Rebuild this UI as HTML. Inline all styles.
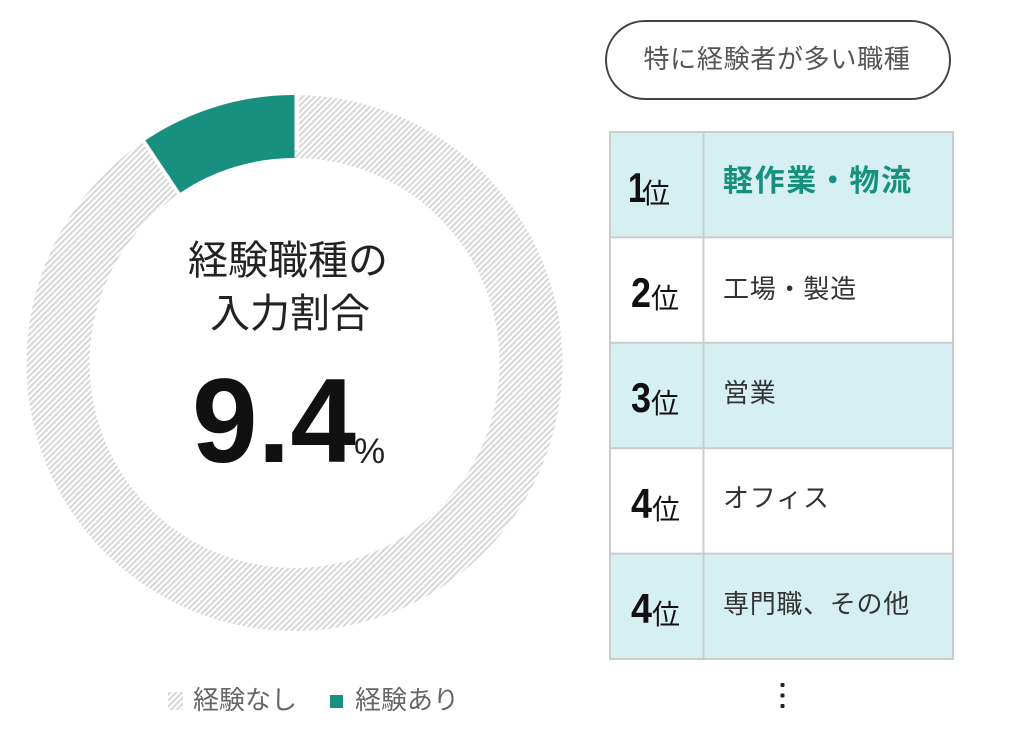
<!DOCTYPE html>
<html>
<head>
<meta charset="utf-8">
<style>
html,body{margin:0;padding:0;background:#fff;}
body{width:1024px;height:743px;overflow:hidden;}
svg{display:block;}
text{font-family:"Liberation Sans","Noto Sans CJK JP",sans-serif;}
</style>
</head>
<body>
<svg width="1024" height="743" viewBox="0 0 1024 743" xmlns="http://www.w3.org/2000/svg">
  <defs>
    <pattern id="hatch" patternUnits="userSpaceOnUse" width="4.2" height="4.2" patternTransform="rotate(45)">
      <rect width="4.2" height="4.2" fill="#ffffff"/>
      <rect width="2.1" height="4.2" fill="#d8d8d8"/>
    </pattern>
  </defs>

  <!-- Donut -->
  <path fill="url(#hatch)" fill-rule="evenodd"
    d="M294.5,95 A268,268 0 1,1 294.4,95 Z M294.5,158 A205,205 0 1,0 294.6,158 Z"/>
  <!-- gaps -->
  <line x1="294.5" y1="150" x2="294.5" y2="90" stroke="#fff" stroke-width="9"/>
  <line x1="185" y1="199" x2="140" y2="132" stroke="#fff" stroke-width="8"/>
  <!-- green segment -->
  <path fill="#17907f"
    d="M294.5,95 L294.5,158 A205,205 0 0,0 180.3,192.7 L145.3,140.4 A268,268 0 0,1 294.5,95 Z"/>

  <!-- Center text -->
  <text x="288" y="274" font-size="40" fill="#222" text-anchor="middle">経験職種の</text>
  <text x="290" y="327" font-size="40" fill="#222" text-anchor="middle">入力割合</text>
  <text x="192" y="462" font-size="120" font-weight="bold" fill="#111" textLength="164" lengthAdjust="spacingAndGlyphs">9.4</text>
  <text x="354" y="463" font-size="35" fill="#222">%</text>

  <!-- Legend -->
  <rect x="168" y="692" width="15" height="18" fill="url(#hatch)"/>
  <text x="193" y="709" font-size="26" fill="#666" letter-spacing="0">経験なし</text>
  <rect x="330" y="695" width="13" height="13" fill="#17907f"/>
  <text x="355" y="709" font-size="26" fill="#666">経験あり</text>

  <!-- Pill -->
  <rect x="606" y="21" width="344" height="78" rx="39" ry="39" fill="#fff" stroke="#444" stroke-width="2"/>
  <text x="777" y="68" font-size="26" fill="#555" text-anchor="middle" letter-spacing="0.7">特に経験者が多い職種</text>

  <!-- Table rows -->
  <rect x="610" y="132" width="343" height="105.4" fill="#d6eff0"/>
  <rect x="610" y="237.4" width="343" height="105.4" fill="#ffffff"/>
  <rect x="610" y="342.8" width="343" height="105.4" fill="#d6eff0"/>
  <rect x="610" y="448.2" width="343" height="105.4" fill="#ffffff"/>
  <rect x="610" y="553.6" width="343" height="105.4" fill="#d6eff0"/>
  <!-- borders -->
  <g stroke="#cccccc" stroke-width="2" fill="none">
    <rect x="610" y="132" width="343" height="527"/>
    <line x1="703.5" y1="132" x2="703.5" y2="659"/>
    <line x1="610" y1="237.4" x2="953" y2="237.4"/>
    <line x1="610" y1="342.8" x2="953" y2="342.8"/>
    <line x1="610" y1="448.2" x2="953" y2="448.2"/>
    <line x1="610" y1="553.6" x2="953" y2="553.6"/>
  </g>

  <!-- Rank cells -->
  <g fill="#111">
    <text x="628" y="202" font-size="42" font-weight="bold" textLength="18" lengthAdjust="spacingAndGlyphs">1</text>
    <text x="642" y="203" font-size="28">位</text>

    <text x="631" y="307" font-size="42" font-weight="bold" textLength="20" lengthAdjust="spacingAndGlyphs">2</text>
    <text x="651" y="308" font-size="28">位</text>

    <text x="631" y="412" font-size="42" font-weight="bold" textLength="20" lengthAdjust="spacingAndGlyphs">3</text>
    <text x="651" y="413" font-size="28">位</text>

    <text x="631" y="518" font-size="42" font-weight="bold" textLength="21" lengthAdjust="spacingAndGlyphs">4</text>
    <text x="652" y="519" font-size="28">位</text>

    <text x="631" y="623" font-size="42" font-weight="bold" textLength="21" lengthAdjust="spacingAndGlyphs">4</text>
    <text x="652" y="624" font-size="28">位</text>
  </g>

  <!-- Job cells -->
  <text x="723" y="191" font-size="30" font-weight="bold" fill="#17907f" letter-spacing="1.6">軽作業・物流</text>
  <text x="723" y="298" font-size="26" fill="#333" letter-spacing="0.8">工場・製造</text>
  <text x="723" y="402" font-size="26" fill="#333" letter-spacing="0.8">営業</text>
  <text x="723" y="507" font-size="26" fill="#333" letter-spacing="0.8">オフィス</text>
  <text x="723" y="613" font-size="26" fill="#333" letter-spacing="0.7">専門職、その他</text>

  <!-- Ellipsis -->
  <g fill="#222">
    <rect x="780.5" y="683" width="4" height="4" rx="1"/>
    <rect x="780.5" y="693.5" width="4" height="4" rx="1"/>
    <rect x="780.5" y="704" width="4" height="4" rx="1"/>
  </g>
</svg>
</body>
</html>
